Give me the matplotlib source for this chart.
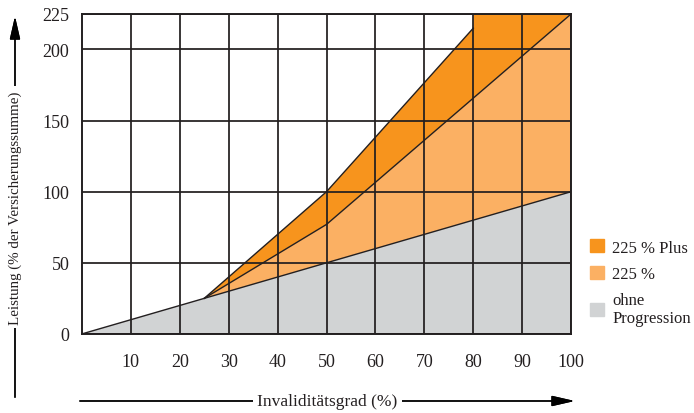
import numpy as np
import matplotlib
matplotlib.use("Agg")
import matplotlib.pyplot as plt
from matplotlib.patches import Patch

plt.rcParams['font.family'] = ['Liberation Serif', 'DejaVu Serif']

x_ohne = [0, 100]
y_ohne = [0, 100]
x_225 = [25, 50, 100]
y_225 = [25, 77, 225]
x_plus = [25, 50, 80, 80, 100]
y_plus = [25, 100, 215, 225, 225]

x_ticks = [10, 20, 30, 40, 50, 60, 70, 80, 90, 100]
y_ticks = [0, 50, 100, 150, 200, 225]

labels = ["225 % Plus", "225 %", "ohne\nProgression"]
c_plus = "#F7941D"
c_225 = "#FBB063"
c_ohne = "#D1D3D4"
c_line = "#231F20"

fig = plt.figure(figsize=(6.94, 4.14), dpi=100)
ax = fig.add_axes([0.118, 0.191, 0.705, 0.773])

# grey area under the straight line
ax.fill(x_ohne + x_ohne[::-1], y_ohne + [0, 0], color=c_ohne, lw=0, zorder=1)
# light orange between grey line and 225 % line (starts where both meet at 25)
ax.fill(x_225 + [x_ohne[1], x_225[0]], y_225 + [y_ohne[1], y_225[0]], color=c_225, lw=0, zorder=1)
# dark orange between 225 % line and plus line
ax.fill(x_plus + x_225[::-1], y_plus + y_225[::-1], color=c_plus, lw=0, zorder=1)

ax.plot(x_ohne, y_ohne, color=c_line, lw=1.0, zorder=3)
ax.plot(x_225, y_225, color=c_line, lw=1.0, zorder=3)
ax.plot(x_plus[:3], y_plus[:3], color=c_line, lw=1.0, zorder=3)

ax.set_xlim(0, 100)
ax.set_ylim(0, 225)
ax.set_xticks(x_ticks)
ax.set_yticks(y_ticks)
ax.tick_params(length=0, labelsize=13, colors=c_line)
ax.tick_params(axis='x', pad=14)
ax.tick_params(axis='y', pad=9)
ax.grid(True, color=c_line, lw=1.4, alpha=0.9, zorder=2)
ax.set_axisbelow(False)
for s in ax.spines.values():
    s.set_color(c_line)
    s.set_linewidth(1.4)
    s.set_zorder(4)

handles = [Patch(color=c_plus), Patch(color=c_225), Patch(color=c_ohne)]
leg = fig.legend(handles, labels, loc='upper left', bbox_to_anchor=(0.838, 0.44),
                 frameon=False, fontsize=12, handlelength=0.85, handleheight=0.85,
                 handletextpad=0.5, labelspacing=0.6, borderpad=0)
for t in leg.get_texts():
    t.set_color(c_line)

# axis arrows with their titles
arrow = dict(arrowstyle='-|>,head_length=1.4,head_width=0.32', lw=1.0, color='black',
             shrinkA=0, shrinkB=0)
ax_y = 0.029
fig.text(0.472, ax_y, "Invaliditätsgrad (%)", ha='center', va='center', fontsize=12.5,
         color=c_line, bbox=dict(facecolor='white', edgecolor='none', pad=3), zorder=5)
fig.add_artist(plt.annotate("", xy=(0.828, ax_y), xytext=(0.115, ax_y),
                            xycoords='figure fraction', arrowprops=arrow))
ay_x = 0.0216
fig.text(ay_x, 0.498, "Leistung (% der Versicherungssumme)", ha='center', va='center',
         rotation=90, fontsize=10.8, color=c_line,
         bbox=dict(facecolor='white', edgecolor='none', pad=3), zorder=5)
fig.add_artist(plt.annotate("", xy=(ay_x, 0.958), xytext=(ay_x, 0.038),
                            xycoords='figure fraction', arrowprops=arrow))

fig.savefig("out.png", dpi=100)
